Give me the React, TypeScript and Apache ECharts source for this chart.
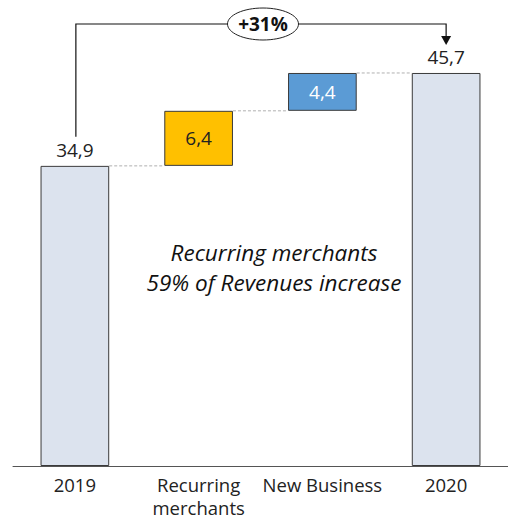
import React, { useEffect, useRef } from "react";
import * as echarts from "echarts";

const categories = ["2019", "Recurring\nmerchants", "New Business", "2020"];
const values = [34.9, 6.4, 4.4, 45.7];
const kinds = ["total", "delta", "delta", "total"];
const colors = ["#DCE3EE", "#FFC000", "#5B9BD5", "#DCE3EE"];
const labelColors = ["#222222", "#222222", "#FFFFFF", "#222222"];
const growthLabel = "+31%";
const noteLines = ["Recurring merchants", "59% of Revenues increase"];

const FONT = "'Open Sans', 'Noto Sans', sans-serif";
const fmt = (v: number) => v.toFixed(1).replace(".", ",");

export default function App() {
  const ref = useRef<HTMLDivElement>(null);
  useEffect(() => {
    if (!ref.current) return;
    const chart = echarts.init(ref.current, null, { renderer: "svg" });
    const bases: number[] = [];
    const tops: number[] = [];
    let run = 0;
    values.forEach((v, i) => {
      if (kinds[i] === "total") {
        bases.push(0);
        run = v;
      } else {
        bases.push(run);
        run += v;
      }
      tops.push(run);
    });
    const barFrac = 0.555;
    chart.setOption({
      animation: false,
      grid: { left: 13, width: 498, top: 36, height: 430, containLabel: false },
      xAxis: {
        type: "category",
        data: categories,
        axisTick: { show: false },
        axisLine: { lineStyle: { color: "#555555", width: 1 } },
        axisLabel: {
          color: "#222222",
          fontSize: 18.5,
          fontFamily: FONT,
          margin: 7,
          lineHeight: 23,
          interval: 0,
        },
      },
      yAxis: { type: "value", min: 0, max: 50, show: false, splitLine: { show: false } },
      series: [
        {
          type: "bar",
          stack: "w",
          data: bases,
          itemStyle: { color: "transparent", borderWidth: 0 },
          barWidth: barFrac * 100 + "%",
          silent: true,
        },
        {
          type: "bar",
          stack: "w",
          barWidth: barFrac * 100 + "%",
          data: values.map((v, i) => ({
            value: v,
            itemStyle: { color: colors[i], borderColor: "#3A3A3A", borderWidth: 1 },
            label: {
              show: true,
              position: kinds[i] === "total" ? "top" : "inside",
              distance: 6,
              formatter: () => fmt(v),
              color: labelColors[i],
              fontSize: 19,
              fontFamily: FONT,
            },
          })),
        },
        {
          type: "custom",
          data: tops.slice(0, 3).map((t, i) => [i, t]),
          renderItem: (params: any, api: any) => {
            const i = api.value(0);
            const t = api.value(1);
            const w = api.size([1, 0])[0] * barFrac;
            const p1 = api.coord([i, t]);
            const p2 = api.coord([i + 1, t]);
            return {
              type: "line",
              shape: { x1: p1[0] + w / 2, y1: p1[1], x2: p2[0] - w / 2, y2: p2[1] },
              style: { stroke: "#B0B0B0", lineWidth: 1, lineDash: [3, 2] },
            };
          },
          z: 1,
        },
      ],
    });

    const pL = chart.convertToPixel({ gridIndex: 0 }, [0, values[0]]) as number[];
    const pR = chart.convertToPixel({ gridIndex: 0 }, [3, values[3]]) as number[];
    const yTop = 24;
    const xL = pL[0] + 1;
    const xR = pR[0];
    const midX = 263;
    const noteX = 274;
    chart.setOption({
      graphic: [
        {
          type: "polyline",
          shape: { points: [[xL, pL[1] - 29], [xL, yTop], [xR, yTop], [xR, pR[1] - 36]] },
          style: { stroke: "#111111", lineWidth: 1.2, fill: "none" },
        },
        {
          type: "polygon",
          shape: { points: [[xR - 5, pR[1] - 37], [xR + 5, pR[1] - 37], [xR, pR[1] - 28]] },
          style: { fill: "#111111" },
        },
        {
          type: "ellipse",
          shape: { cx: midX, cy: yTop, rx: 35.5, ry: 16 },
          style: { fill: "#FFFFFF", stroke: "#222222", lineWidth: 1 },
        },
        {
          type: "text",
          x: midX,
          y: yTop,
          style: {
            text: growthLabel,
            fontSize: 19,
            fontWeight: "bold",
            fontFamily: FONT,
            fill: "#111111",
            align: "center",
            verticalAlign: "middle",
          },
        },
        {
          type: "text",
          x: noteX,
          y: 252,
          style: {
            text: noteLines[0],
            fontSize: 22.5,
            fontStyle: "italic",
            fontFamily: FONT,
            fill: "#111111",
            align: "center",
            verticalAlign: "middle",
          },
        },
        {
          type: "text",
          x: noteX,
          y: 282,
          style: {
            text: noteLines[1],
            fontSize: 22.5,
            fontStyle: "italic",
            fontFamily: FONT,
            fill: "#111111",
            align: "center",
            verticalAlign: "middle",
          },
        },
      ],
    });
    return () => chart.dispose();
  }, []);
  return (
    <div
      ref={ref}
      style={{ position: "absolute", left: 0, top: 0, width: 508, height: 520, background: "#fff" }}
    />
  );
}
